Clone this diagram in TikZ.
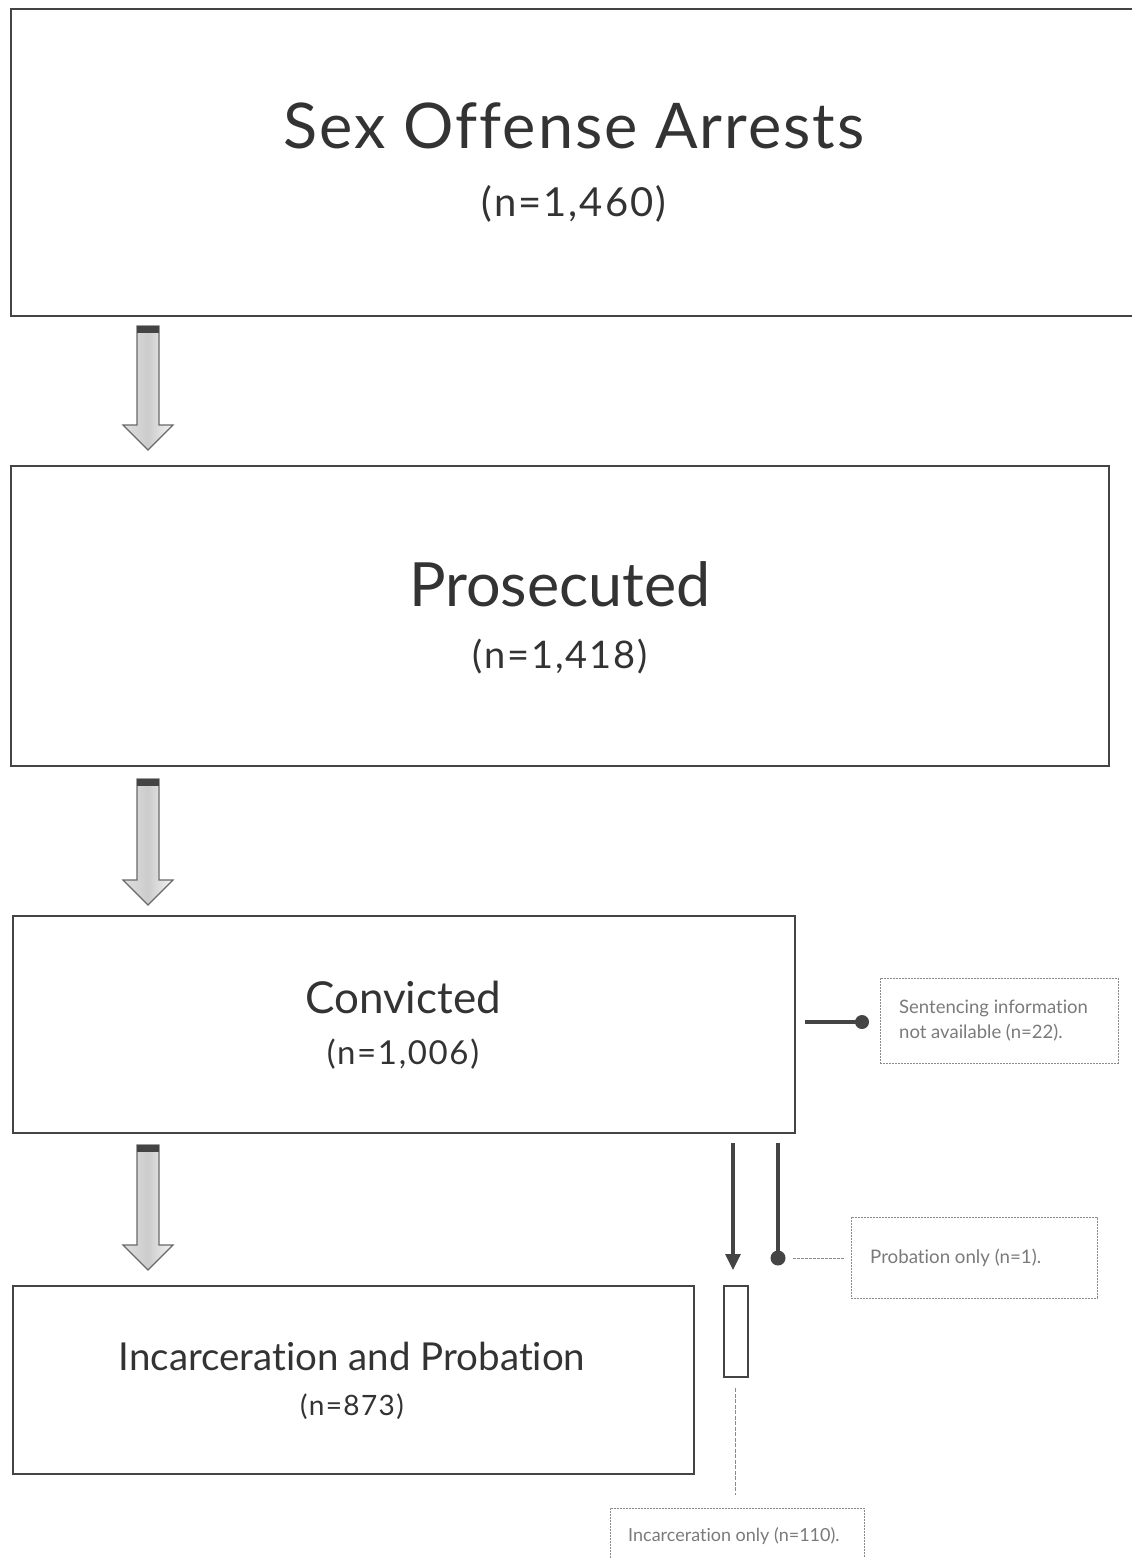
\documentclass[tikz,border=0pt]{standalone}
\usepackage{fontspec}
\setmainfont{Lato}[Ligatures={NoCommon}]
\usetikzlibrary{arrows.meta}
\definecolor{boxline}{HTML}{444444}
\definecolor{txt}{HTML}{333333}
\definecolor{notetxt}{HTML}{7A7A7A}
\definecolor{noteline}{HTML}{8A8A8A}
\newfontfamily\numfont{Lato}[LetterSpace=5]
\newfontfamily\headfont{Lato}[LetterSpace=3,Ligatures={NoCommon}]
\tikzset{
  stagebox/.style={draw=boxline, line width=1.6pt, fill=white},
  notebox/.style={draw=noteline, dash pattern=on 2pt off 1pt, line width=0.9pt, inner sep=0pt},
  notetext/.style={text=notetxt, font=\fontsize{18}{25}\selectfont, align=left, anchor=west, inner sep=0pt},
  bigtitle/.style={text=txt, font=\fontsize{#1}{#1}\selectfont, inner sep=0pt, anchor=base},
  headtitle/.style={text=txt, font=\headfont\fontsize{#1}{#1}\selectfont, inner sep=0pt, anchor=base},
  numtitle/.style={text=txt, font=\numfont\fontsize{#1}{#1}\selectfont, inner sep=0pt, anchor=base},
  fatarrow/.style={draw=boxline!80, line width=1.2pt, top color=gray!25, bottom color=gray!8, middle color=gray!40, shading angle=90},
  thinline/.style={draw=boxline, line width=3.2pt},
}
\newcommand{\fatdown}[3]{% x, ytop, ybottom
  \path[fatarrow] (#1-11,#2) -- (#1+11,#2) -- (#1+11,#3-25) -- (#1+25,#3-25) -- (#1,#3) -- (#1-25,#3-25) -- (#1-11,#3-25) -- cycle;
  \fill[boxline] (#1-11,#2) rectangle (#1+11,#2+7);
}
\begin{document}
\begin{tikzpicture}[x=1pt,y=-1pt]
\useasboundingbox (0,0) rectangle (1132,1558);
\clip (0,0) rectangle (1132,1558);
% stage boxes
\node[stagebox, minimum width=1140pt, minimum height=307pt, anchor=north west, inner sep=0pt] (arrests) at (10,8) {};
\node[headtitle=63] (t1) at (574,148) {Sex Offense Arrests};
\node[numtitle=40] (n1) at (574,216) {(n=1,460)};

\node[stagebox, minimum width=1098pt, minimum height=300pt, anchor=north west, inner sep=0pt] (prosecuted) at (10,465) {};
\node[bigtitle=61] (t2) at (560,606) {Prosecuted};
\node[numtitle=38] (n2) at (560,668) {(n=1,418)};

\node[stagebox, minimum width=782pt, minimum height=217pt, anchor=north west, inner sep=0pt] (convicted) at (12,915) {};
\node[bigtitle=44] (t3) at (403,1013) {Convicted};
\node[numtitle=33] (n3) at (403,1064) {(n=1,006)};

\node[stagebox, minimum width=681pt, minimum height=188pt, anchor=north west, inner sep=0pt] (incprob) at (12,1285) {};
\node[bigtitle=38.5] (t4) at (352,1370) {Incarceration and Probation};
\node[numtitle=28] (n4) at (352,1415) {(n=873)};

% fat arrows
\fatdown{148}{326}{450}
\fatdown{148}{779}{905}
\fatdown{148}{1145}{1270}

% note boxes
\node[notebox, minimum width=238pt, minimum height=85pt, anchor=north west] (na) at (880,978) {};
\node[notetext, font=\fontsize{18.5}{25}\selectfont] (natext) at (899,1021) {Sentencing information\\not available (n=22).};

\node[notebox, minimum width=246pt, minimum height=81pt, anchor=north west] (po) at (851,1217) {};
\node[notetext, font=\fontsize{18.7}{25}\selectfont] (potext) at (870,1258) {Probation only (n=1).};

\node[notebox, minimum width=254pt, minimum height=80pt, anchor=north west] (io) at (610,1508) {};
\node[notetext] (iotext) at (628,1536) {Incarceration only (n=110).};

% small rectangle
\node[draw=boxline, line width=1.6pt, minimum width=24pt, minimum height=91pt, anchor=north west, inner sep=0pt] (small) at (723,1285) {};

% connectors
\coordinate (c1) at (805,1022);
\coordinate (d1) at (862,1022);
\draw[thinline] (c1) -- (d1);
\fill[boxline] (d1) circle (7);

\coordinate (v1top) at (733,1143);
\coordinate (v1bot) at (733,1270);
\draw[thinline, -{Triangle[length=16pt,width=15pt]}] (v1top) -- (v1bot);

\coordinate (v2top) at (778,1143);
\coordinate (v2bot) at (778,1258);
\draw[thinline] (v2top) -- (v2bot);
\fill[boxline] (v2bot) circle (7.5);
\coordinate (p1) at (793,1258);
\coordinate (p2) at (845,1258);
\draw[noteline, dash pattern=on 3pt off 1pt, line width=0.9pt] (p1) -- (p2);

\coordinate (s1) at (735,1388);
\coordinate (s2) at (735,1495);
\draw[noteline, dash pattern=on 4pt off 1.5pt, line width=0.9pt] (s1) -- (s2);
\end{tikzpicture}
\end{document}
